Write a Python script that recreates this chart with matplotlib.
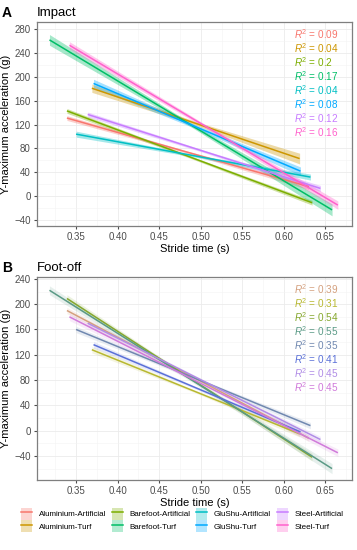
import matplotlib
matplotlib.use('Agg')
import matplotlib.pyplot as plt
import numpy as np
from matplotlib.patches import Patch
from matplotlib.lines import Line2D
from matplotlib.ticker import MultipleLocator

plt.rcParams['font.family'] = ['Liberation Sans', 'DejaVu Sans']
plt.rcParams['mathtext.fontset'] = 'custom'
plt.rcParams['mathtext.it'] = 'Liberation Sans:italic'
plt.rcParams['mathtext.rm'] = 'Liberation Sans'

groups = ['Aluminium-Artificial', 'Aluminium-Turf', 'Barefoot-Artificial', 'Barefoot-Turf',
          'GluShu-Artificial', 'GluShu-Turf', 'Steel-Artificial', 'Steel-Turf']
colors_a = ['#F8766D', '#CD9600', '#7CAE00', '#00BE67', '#00BFC4', '#00A9FF', '#C77CFF', '#FF61CC']
colors_b = ['#D4A07E', '#B8B830', '#86A82E', '#5A9A86', '#7088B0', '#5A70D8', '#B08CE6', '#D07ADA']

# stride time range per group (s)
x_start = [0.339, 0.369, 0.339, 0.318, 0.350, 0.371, 0.364, 0.342]
x_end = [0.630, 0.619, 0.634, 0.658, 0.632, 0.620, 0.644, 0.665]

# Impact: fitted Y-max acceleration at start / end (g), ribbon half widths (start, mid, end)
impact_y0 = [131, 181, 143, 262, 104, 189, 137, 253]
impact_y1 = [16, 63, -11, -23, 32, 42, 13, -15]
impact_band = [[4, 2, 5], [7, 3, 9], [4, 2, 4], [9, 3, 10], [5, 2, 5], [7, 3, 7], [4, 2, 5], [6, 3, 7]]
impact_r2 = ['0.09', '0.04', '0.2', '0.17', '0.04', '0.08', '0.12', '0.16']

# Foot-off
footoff_y0 = [190, 128, 209, 222, 160, 136, 170, 180]
footoff_y1 = [-12, -5, -42, -60, 8, -2, -14, -35]
footoff_band = [[5, 2, 5], [5, 2, 5], [6, 2, 6], [7, 3, 8], [5, 2, 5], [5, 2, 5], [5, 2, 5], [6, 2, 6]]
footoff_r2 = ['0.39', '0.31', '0.54', '0.55', '0.35', '0.41', '0.45', '0.45']

W, H = 357, 550
fig = plt.figure(figsize=(W / 100, H / 100), dpi=100)


def panel(rect, y0s, y1s, bands, r2s, cols, ylim, yticks, letter, title, band_alpha):
    ax = fig.add_axes(rect)
    for i in range(len(groups)):
        xs = [x_start[i], (x_start[i] + x_end[i]) / 2, x_end[i]]
        ys = [y0s[i], (y0s[i] + y1s[i]) / 2, y1s[i]]
        lo = [y - b for y, b in zip(ys, bands[i])]
        hi = [y + b for y, b in zip(ys, bands[i])]
        ax.fill_between(xs, lo, hi, color=cols[i], alpha=band_alpha, lw=0, zorder=2)
    for i in range(len(groups)):
        ax.plot([x_start[i], x_end[i]], [y0s[i], y1s[i]], color=cols[i], lw=1.1, zorder=3,
                solid_capstyle='butt')
    for i, r in enumerate(r2s):
        ax.text(0.817, 0.94 - i * 0.0686, r'$R^2$ = ' + r, color=cols[i], fontsize=7.2,
                transform=ax.transAxes, va='center', ha='left')
    ax.set_xlim(0.303, 0.682)
    ax.set_ylim(*ylim)
    ax.set_xticks([0.35, 0.40, 0.45, 0.50, 0.55, 0.60, 0.65])
    ax.set_xticklabels(['0.35', '0.40', '0.45', '0.50', '0.55', '0.60', '0.65'])
    ax.set_yticks(yticks)
    ax.xaxis.set_minor_locator(MultipleLocator(0.025))
    ax.yaxis.set_minor_locator(MultipleLocator(20))
    ax.grid(True, which='major', color='#EBEBEB', lw=0.6, zorder=0)
    ax.grid(True, which='minor', color='#F3F3F3', lw=0.4, zorder=0)
    ax.set_axisbelow(True)
    for s in ax.spines.values():
        s.set_color('#7F7F7F')
        s.set_linewidth(0.9)
    ax.tick_params(which='major', length=2.5, color='#4D4D4D', labelsize=7, labelcolor='#4D4D4D', pad=2)
    ax.tick_params(which='minor', length=0)
    ax.set_xlabel('Stride time (s)', fontsize=8, labelpad=1)
    ax.set_ylabel('Y-maximum acceleration (g)', fontsize=8, labelpad=2)
    ax.text(-0.08, 1.045, letter, transform=ax.transAxes, fontsize=10, fontweight='bold', va='center', ha='right')
    ax.text(0.0, 1.045, title, transform=ax.transAxes, fontsize=9.5, va='center', ha='left')
    return ax


panel([37 / W, 1 - 226 / H, 315 / W, 204 / H], impact_y0, impact_y1, impact_band, impact_r2,
      colors_a, (-50, 292), range(-40, 281, 40), 'A', 'Impact', 0.35)
panel([37 / W, 1 - 480 / H, 315 / W, 203 / H], footoff_y0, footoff_y1, footoff_band, footoff_r2,
      colors_b, (-78, 243), range(-40, 241, 40), 'B', 'Foot-off', 0.15)

handles = []
for i in range(len(groups)):
    handles.append((Patch(facecolor=colors_a[i], alpha=0.3, lw=0),
                    Line2D([], [], color=colors_a[i], lw=1.1)))
fig.legend(handles, groups, loc='center', bbox_to_anchor=(0.51, 1 - 520 / H), ncol=4,
           frameon=False, fontsize=5.8, handlelength=1.4, handleheight=1.85,
           columnspacing=0.7, handletextpad=0.8, labelspacing=0.1, borderpad=0)

fig.savefig('out.png', dpi=100)
